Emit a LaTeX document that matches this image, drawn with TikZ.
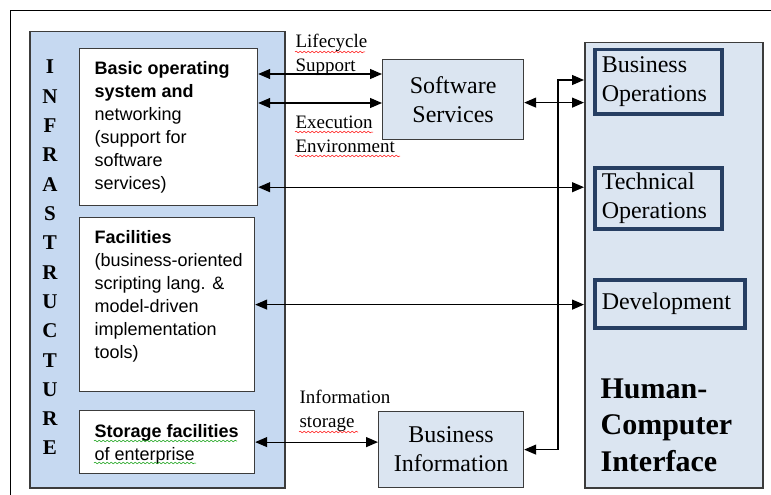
\documentclass[tikz,border=0pt]{standalone}
\usepackage{fontspec}
\setmainfont{Liberation Serif}
\newfontfamily\arialfont{Liberation Sans}
\usetikzlibrary{arrows.meta,decorations.pathmorphing}
\definecolor{infrablue}{RGB}{198,217,241}
\definecolor{paleblue}{RGB}{219,229,241}
\definecolor{navyline}{RGB}{38,62,98}
\definecolor{boxline}{RGB}{60,60,60}

\begin{document}
\begin{tikzpicture}[x=1pt,y=-1pt,line width=1.2pt,>={Triangle[length=12pt,width=10pt]},
	bigbox/.style={draw=boxline,line width=1.5pt,anchor=north west,inner sep=0},
	whitebox/.style={draw=boxline,fill=white,anchor=north west,inner sep=0},
	bluebox/.style={draw=boxline,fill=paleblue,anchor=north west,align=center,font=\fontsize{24}{29}\selectfont},
	opbox/.style={draw=navyline,line width=3.5pt,fill=paleblue,anchor=north west,align=left,inner xsep=7pt,font=\fontsize{24}{29}\selectfont},
	lefttext/.style={anchor=north west,align=left,inner sep=0,font=\arialfont\fontsize{18}{23}\selectfont},
	labeltext/.style={anchor=north west,align=left,inner sep=0,font=\fontsize{19}{24}\selectfont},
	squiggle/.style={decorate,decoration={snake,amplitude=0.8pt,segment length=4pt},line width=0.5pt}]
	\useasboundingbox (0,0) rectangle (771,495);
	\draw[line width=1pt] (10,495) -- (10,11) -- (771,11);

	% infrastructure side
	\node[bigbox,fill=infrablue,minimum width=255,minimum height=456] (infra) at (29,31) {};
	\foreach \letter [count=\i] in {I,N,F,R,A,S,T,R,U,C,T,U,R,E}
		\node[anchor=base,inner sep=0,font=\bfseries\fontsize{21}{24}\selectfont] (inf\i) at (50,{74+29.3*(\i-1)}) {\letter};
	\node[whitebox,minimum width=178,minimum height=157] (basic) at (79,48) {};
	\node[whitebox,minimum width=175,minimum height=174] (fac) at (79,217) {};
	\node[whitebox,minimum width=175,minimum height=63] (sto) at (79,410) {};
	\node[lefttext] (basictxt) at (94,61) {\textbf{Basic operating}\\\textbf{system and}\\networking\\(support for\\software\\services)};
	\node[lefttext] (factxt) at (94,230) {\textbf{Facilities}\\(business-oriented\\scripting lang. \&\\model-driven\\implementation\\tools)};
	\node[lefttext] (stotxt) at (94,424) {\textbf{Storage facilities}\\of enterprise};

	% middle
	\node[bluebox,minimum width=141,minimum height=80] (ss) at (382,59) {Software\\Services};
	\node[bluebox,minimum width=145,minimum height=76] (bi) at (378,411) {Business\\Information};
	\node[labeltext] (lifelbl) at (295,34) {Lifecycle\\Support};
	\node[labeltext] (execlbl) at (295,115) {Execution\\Environment};
	\node[labeltext] (infolbl) at (299,390) {Information\\storage};

	% human-computer interface side
	\node[bigbox,fill=paleblue,minimum width=178,minimum height=445] (hci) at (584,42) {};
	\node[opbox,text width=113,minimum height=64] (busops) at (593,48) {Business\\Operations};
	\node[opbox,text width=113,minimum height=61] (techops) at (593,166) {Technical\\Operations};
	\node[opbox,text width=136,minimum height=48] (dev) at (593,278) {Development};
	\node[anchor=north west,align=left,inner sep=0,font=\bfseries\fontsize{30}{36.5}\selectfont] (hcitxt) at (600,378) {Human-\\Computer\\Interface};

	% connectors
	\coordinate (lc) at ([yshift=-26pt]basic.north east);
	\coordinate (ex) at ([yshift=-55pt]basic.north east);
	\coordinate (sh) at ([yshift=-3pt]ss.east);
	\coordinate (tc) at ([yshift=19pt]basic.south east);
	\coordinate (jn) at (558,80);
	\draw[<->] (lc) -- (lc -| ss.west);
	\draw[<->] (ex) -- (ex -| ss.west);
	\draw[<->] (sh) -- (sh -| hci.west);
	\draw[<->] (tc) -- (tc -| hci.west);
	\draw[<->] (fac.east) -- (fac.east -| hci.west);
	\draw[<->] (sto.east) -- (sto.east -| bi.west);
	\draw[<->] (bi.east) -| (jn) -- (jn -| hci.west);

	% spell-check marks
	\draw[squiggle,red] (295,52) -- (365,52);
	\draw[squiggle,red] (295,132) -- (373,132);
	\draw[squiggle,red] (295,156) -- (400,156);
	\draw[squiggle,red] (299,432) -- (358,432);
	\draw[squiggle,green!60!black] (94,441) -- (237,441);
	\draw[squiggle,green!60!black] (94,463) -- (196,463);
\end{tikzpicture}
\end{document}
